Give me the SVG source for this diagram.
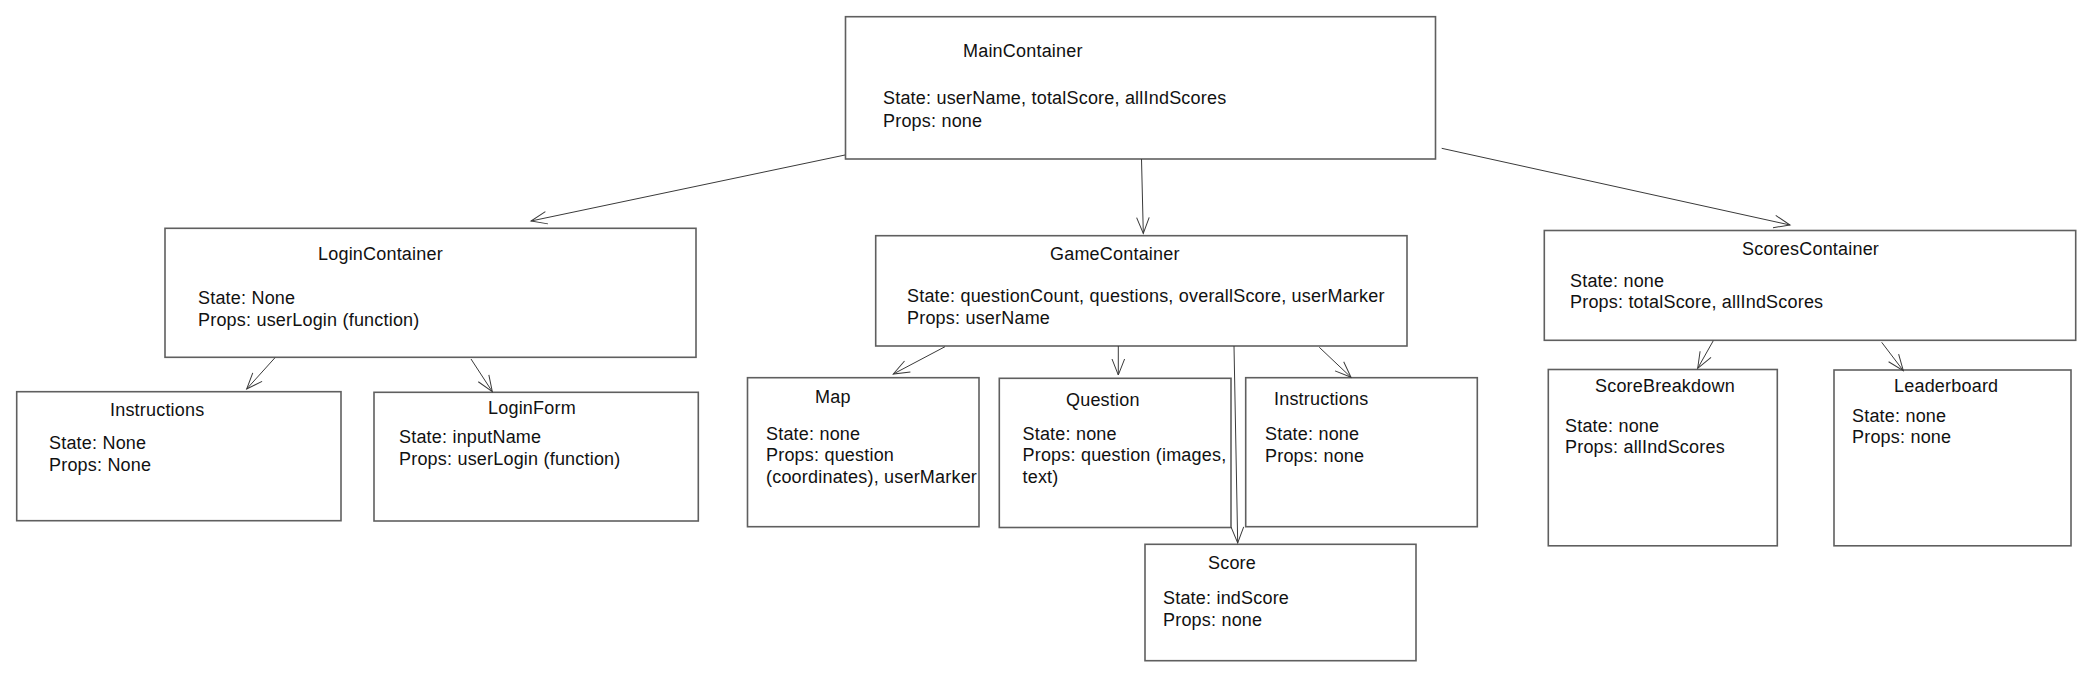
<svg xmlns="http://www.w3.org/2000/svg" width="2100" height="688" viewBox="0 0 2100 688">
<style>
  .box { fill: #ffffff; stroke: #5f5f5f; stroke-width: 1.6; }
  .t { font-family: "Liberation Sans", Arial, sans-serif; font-size: 18px; letter-spacing: 0.2px; fill: #111111; }
  .edge { stroke: #3a3a3a; stroke-width: 1; fill: none; marker-end: url(#arr); }
</style>
<defs>
  <marker id="arr" markerUnits="userSpaceOnUse" markerWidth="20" markerHeight="20" refX="0" refY="0" orient="auto" overflow="visible">
    <path d="M-16,-6.3 L0,0 L-16,6.3" fill="none" stroke="#3a3a3a" stroke-width="1"/>
  </marker>
</defs>
<rect width="2100" height="688" fill="#ffffff"/>

<g id="MainContainer">
  <rect class="box" x="845.5" y="16.7" width="590" height="142.3"/>
  <text class="t" x="963" y="57">MainContainer</text>
  <text class="t" x="883" y="104">State: userName, totalScore, allIndScores</text>
  <text class="t" x="883" y="126.5">Props: none</text>
</g>

<g id="LoginContainer">
  <rect class="box" x="165" y="228.3" width="531" height="129"/>
  <text class="t" x="318" y="260">LoginContainer</text>
  <text class="t" x="198" y="304">State: None</text>
  <text class="t" x="198" y="326">Props: userLogin (function)</text>
</g>

<g id="InstructionsLogin">
  <rect class="box" x="16.7" y="391.7" width="324.3" height="129"/>
  <text class="t" x="110" y="416">Instructions</text>
  <text class="t" x="49" y="449">State: None</text>
  <text class="t" x="49" y="471">Props: None</text>
</g>

<g id="LoginForm">
  <rect class="box" x="374" y="392.3" width="324.3" height="128.7"/>
  <text class="t" x="488" y="414">LoginForm</text>
  <text class="t" x="399" y="443">State: inputName</text>
  <text class="t" x="399" y="465">Props: userLogin (function)</text>
</g>

<g id="GameContainer">
  <rect class="box" x="875.7" y="235.7" width="531.3" height="110.3"/>
  <text class="t" x="1050" y="260">GameContainer</text>
  <text class="t" x="907" y="302">State: questionCount, questions, overallScore, userMarker</text>
  <text class="t" x="907" y="323.5">Props: userName</text>
</g>

<g id="Map">
  <rect class="box" x="747.5" y="377.7" width="231.5" height="149"/>
  <text class="t" x="815" y="403">Map</text>
  <text class="t" x="766" y="440">State: none</text>
  <text class="t" x="766" y="461">Props: question</text>
  <text class="t" x="766" y="482.5">(coordinates), userMarker</text>
</g>

<g id="Question">
  <rect class="box" x="999.3" y="378.3" width="231.7" height="149.2"/>
  <text class="t" x="1066" y="405.5">Question</text>
  <text class="t" x="1022.5" y="440">State: none</text>
  <text class="t" x="1022.5" y="461">Props: question (images,</text>
  <text class="t" x="1022.5" y="482.5">text)</text>
</g>

<g id="InstructionsGame">
  <rect class="box" x="1245.7" y="377.7" width="231.6" height="149"/>
  <text class="t" x="1274" y="405">Instructions</text>
  <text class="t" x="1265" y="440">State: none</text>
  <text class="t" x="1265" y="461.7">Props: none</text>
</g>

<g id="Score">
  <rect class="box" x="1145" y="544.3" width="271" height="116.4"/>
  <text class="t" x="1208" y="569">Score</text>
  <text class="t" x="1163" y="604">State: indScore</text>
  <text class="t" x="1163" y="626">Props: none</text>
</g>

<g id="ScoresContainer">
  <rect class="box" x="1544.3" y="230.5" width="531.4" height="109.8"/>
  <text class="t" x="1742" y="254.5">ScoresContainer</text>
  <text class="t" x="1570" y="286.7">State: none</text>
  <text class="t" x="1570" y="308.3">Props: totalScore, allIndScores</text>
</g>

<g id="ScoreBreakdown">
  <rect class="box" x="1548.3" y="369.5" width="229" height="176.3"/>
  <text class="t" x="1595" y="391.7">ScoreBreakdown</text>
  <text class="t" x="1565" y="431.7">State: none</text>
  <text class="t" x="1565" y="452.7">Props: allIndScores</text>
</g>

<g id="Leaderboard">
  <rect class="box" x="1834" y="370" width="237" height="175.8"/>
  <text class="t" x="1894" y="391.7">Leaderboard</text>
  <text class="t" x="1852" y="421.7">State: none</text>
  <text class="t" x="1852" y="443.3">Props: none</text>
</g>

<g id="connectors">
  <line class="edge" x1="845" y1="155" x2="531" y2="221"/>
  <line class="edge" x1="1141.5" y1="159" x2="1143.3" y2="233.5"/>
  <line class="edge" x1="1441.7" y1="148.3" x2="1790" y2="225"/>
  <line class="edge" x1="275" y1="357.7" x2="246.7" y2="389"/>
  <line class="edge" x1="471" y1="359" x2="492.3" y2="391.7"/>
  <line class="edge" x1="945" y1="346.7" x2="893.3" y2="374"/>
  <line class="edge" x1="1118.3" y1="346" x2="1118.3" y2="375"/>
  <line class="edge" x1="1319.3" y1="347.3" x2="1351" y2="377.3"/>
  <line class="edge" x1="1234" y1="346" x2="1237.7" y2="543"/>
  <line class="edge" x1="1713.3" y1="340.7" x2="1697.7" y2="368.3"/>
  <line class="edge" x1="1881.7" y1="342.3" x2="1903.3" y2="370.7"/>
</g>
</svg>
